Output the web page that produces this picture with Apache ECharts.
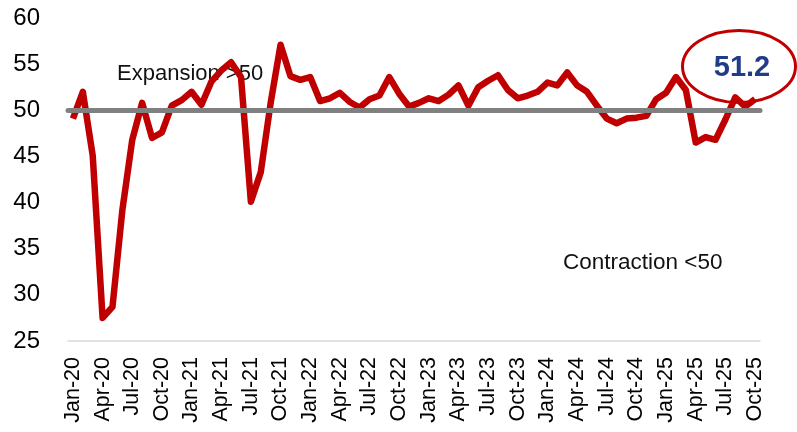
<!DOCTYPE html>
<html>
<head>
<meta charset="utf-8">
<script src="https://cdn.jsdelivr.net/npm/echarts@6/dist/echarts.min.js"></script>
<style>
  html, body { margin: 0; padding: 0; background: #fff; }
  #chart { width: 797px; height: 432px; }
</style>
</head>
<body>
<div id="chart"></div>
<script>
// months Jan-20 .. Oct-25
var monthNames = ['Jan', 'Feb', 'Mar', 'Apr', 'May', 'Jun', 'Jul', 'Aug', 'Sep', 'Oct', 'Nov', 'Dec'];
var years = ['20', '21', '22', '23', '24', '25'];
var months = [];
years.forEach(function (y) {
  monthNames.forEach(function (m) {
    months.push(m + '-' + y);
  });
});
months = months.slice(0, 70);

var pmi = [
  49.1, 52.0, 45.1, 27.5, 28.7, 39.2, 46.8, 50.8, 47.0, 47.6, 50.5, 51.1,
  52.0, 50.6, 53.1, 54.3, 55.2, 53.6, 40.1, 43.3, 50.8, 57.1, 53.7, 53.3,
  53.6, 51.0, 51.3, 51.9, 50.9, 50.3, 51.2, 51.6, 53.6, 51.8, 50.4, 50.8,
  51.3, 51.0, 51.7, 52.7, 50.5, 52.5, 53.2, 53.8, 52.2, 51.3, 51.6, 52.0,
  53.0, 52.7, 54.1, 52.7, 52.0, 50.5, 49.1, 48.6, 49.1, 49.2, 49.4, 51.2,
  51.9, 53.6, 52.2, 46.5, 47.1, 46.8, 49.0, 51.4, 50.4, 51.2
];
var threshold = 50;
var latest = '51.2';

var font = "'Liberation Sans', Arial, sans-serif";
var chart = echarts.init(document.getElementById('chart'));

var option = {
  animation: false,
  grid: { left: 68, right: 37, top: 18, bottom: 91 },
  xAxis: {
    type: 'category',
    data: months,
    boundaryGap: true,
    axisLine: { lineStyle: { color: '#d9d9d9', width: 1.5 } },
    axisTick: { show: false },
    axisLabel: {
      interval: 2,
      rotate: 90,
      margin: 16,
      color: '#000',
      fontSize: 21.5,
      fontFamily: font
    }
  },
  yAxis: {
    type: 'value',
    min: 25,
    max: 60,
    interval: 5,
    axisLine: { show: false },
    axisTick: { show: false },
    splitLine: { show: false },
    axisLabel: {
      margin: 28,
      color: '#000',
      fontSize: 24,
      fontFamily: font
    }
  },
  series: [
    {
      type: 'line',
      data: pmi,
      symbol: 'none',
      lineStyle: { color: '#c00000', width: 6.5, join: 'round' },
      markLine: {
        silent: true,
        symbol: 'none',
        label: { show: false },
        lineStyle: { color: '#808080', width: 5, type: 'solid', cap: 'round' },
        data: [{ yAxis: threshold }]
      }
    }
  ],
  graphic: [
    {
      type: 'text',
      left: 117,
      top: 63,
      style: { text: 'Expansion >50', fill: '#111', fontSize: 22, fontFamily: font }
    },
    {
      type: 'text',
      left: 563,
      top: 251,
      style: { text: 'Contraction <50', fill: '#111', fontSize: 22.5, fontFamily: font }
    },
    {
      type: 'ellipse',
      shape: { cx: 739, cy: 66.5, rx: 56.5, ry: 36 },
      style: { fill: 'none', stroke: '#c00000', lineWidth: 3 },
      z: 10
    },
    {
      type: 'text',
      x: 742,
      y: 68,
      style: {
        text: latest, fill: '#1f3c88', fontSize: 29, fontWeight: 'bold',
        fontFamily: font, align: 'center', verticalAlign: 'middle'
      },
      z: 10
    }
  ]
};
chart.setOption(option);
window.addEventListener('resize', function () { chart.resize(); });
</script>
</body>
</html>
